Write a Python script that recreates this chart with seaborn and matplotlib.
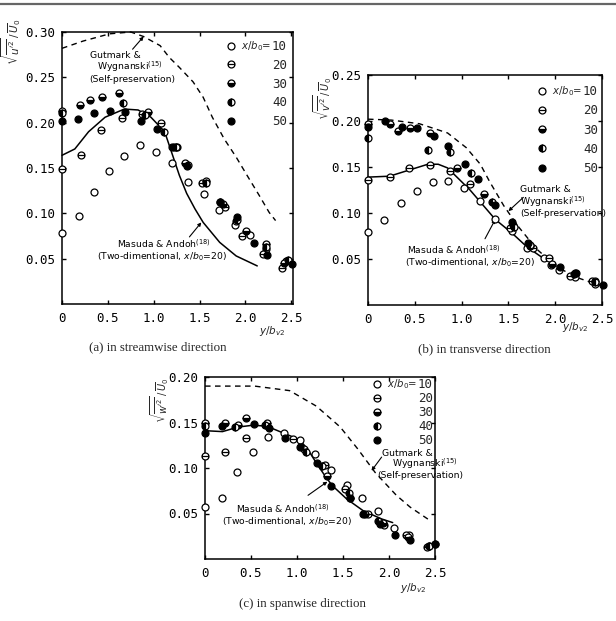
import matplotlib
matplotlib.use("Agg")
import matplotlib.pyplot as plt
import seaborn as sns
from matplotlib.path import Path
from matplotlib.lines import Line2D

# ---------------- data ----------------
SERIES = ["10", "20", "30", "40", "50"]

# (a) streamwise
A_X10 = [0.00, 0.18, 0.35, 0.51, 0.68, 0.85, 1.02, 1.20, 1.37, 1.55, 1.71, 1.89, 2.05, 2.22, 2.44]
A_Y10 = [0.078, 0.097, 0.123, 0.147, 0.163, 0.175, 0.168, 0.156, 0.135, 0.121, 0.104, 0.087, 0.076, 0.061, 0.047]
A_X20 = [0.00, 0.21, 0.43, 0.65, 0.87, 1.08, 1.25, 1.53, 1.78, 1.90, 1.96, 2.19, 2.40]
A_Y20 = [0.149, 0.164, 0.192, 0.205, 0.210, 0.200, 0.173, 0.133, 0.107, 0.091, 0.075, 0.055, 0.040]
A_X30 = [0.00, 0.20, 0.31, 0.44, 0.62, 0.94, 1.22, 1.34, 1.57, 1.76, 2.01, 2.22, 2.42]
A_Y30 = [0.213, 0.220, 0.225, 0.228, 0.233, 0.212, 0.173, 0.156, 0.136, 0.110, 0.081, 0.066, 0.045]
A_X40 = [0.00, 0.66, 0.91, 1.11, 1.24, 1.38, 1.57, 1.72, 1.91, 2.22, 2.46]
A_Y40 = [0.211, 0.222, 0.208, 0.190, 0.173, 0.153, 0.134, 0.113, 0.093, 0.063, 0.048]
A_X50 = [0.00, 0.17, 0.35, 0.52, 0.69, 0.86, 1.04, 1.20, 1.36, 1.72, 1.91, 2.09, 2.24, 2.51]
A_Y50 = [0.202, 0.204, 0.211, 0.213, 0.212, 0.202, 0.193, 0.173, 0.152, 0.113, 0.096, 0.067, 0.054, 0.044]
A_MAS_X = [0.00, 0.14, 0.29, 0.47, 0.68, 0.83, 0.97, 1.12, 1.20, 1.28, 1.36, 1.45, 1.54, 1.72, 1.90, 2.13]
A_MAS_Y = [0.164, 0.171, 0.190, 0.206, 0.215, 0.214, 0.206, 0.190, 0.166, 0.142, 0.122, 0.105, 0.090, 0.068, 0.053, 0.042]
A_GUT_X = [0.00, 0.23, 0.52, 0.75, 0.89, 1.07, 1.17, 1.28, 1.43, 1.54, 1.64, 1.77, 1.90, 2.03, 2.15, 2.26, 2.33]
A_GUT_Y = [0.282, 0.290, 0.298, 0.300, 0.295, 0.285, 0.272, 0.261, 0.245, 0.228, 0.206, 0.182, 0.162, 0.140, 0.120, 0.101, 0.092]

# (b) transverse
B_X10 = [0.00, 0.17, 0.35, 0.52, 0.69, 0.86, 1.03, 1.20, 1.36, 1.54, 1.70, 1.88, 1.95, 2.04, 2.21, 2.42]
B_Y10 = [0.079, 0.092, 0.111, 0.124, 0.134, 0.135, 0.127, 0.113, 0.093, 0.080, 0.062, 0.051, 0.043, 0.038, 0.030, 0.023]
B_X20 = [0.00, 0.23, 0.44, 0.66, 0.88, 1.09, 1.52, 1.76, 1.93, 2.16, 2.39]
B_Y20 = [0.136, 0.139, 0.149, 0.152, 0.146, 0.132, 0.084, 0.062, 0.051, 0.032, 0.026]
B_X30 = [0.00, 0.23, 0.32, 0.45, 0.66, 0.95, 1.24, 1.55, 1.73, 1.97, 2.21, 2.43]
B_Y30 = [0.197, 0.197, 0.189, 0.192, 0.187, 0.149, 0.121, 0.087, 0.064, 0.045, 0.035, 0.026]
B_X40 = [0.00, 0.64, 0.88, 1.10, 1.32, 1.56, 1.73, 2.20, 2.43]
B_Y40 = [0.181, 0.169, 0.166, 0.144, 0.112, 0.085, 0.065, 0.034, 0.025]
B_X50 = [0.00, 0.18, 0.36, 0.52, 0.70, 0.86, 1.04, 1.18, 1.36, 1.54, 1.71, 2.05, 2.22, 2.51]
B_Y50 = [0.194, 0.200, 0.193, 0.192, 0.184, 0.173, 0.153, 0.137, 0.109, 0.090, 0.067, 0.041, 0.035, 0.022]
B_MAS_X = [0.00, 0.23, 0.45, 0.64, 0.75, 0.85, 0.98, 1.09, 1.20, 1.36, 1.54, 1.70, 1.87, 1.98]
B_MAS_Y = [0.139, 0.140, 0.147, 0.153, 0.153, 0.149, 0.136, 0.125, 0.112, 0.093, 0.078, 0.063, 0.051, 0.045]
B_GUT_X = [0.00, 0.25, 0.55, 0.85, 1.05, 1.20, 1.30, 1.45, 1.60, 1.80, 2.00, 2.20, 2.40, 2.50]
B_GUT_Y = [0.202, 0.201, 0.197, 0.187, 0.171, 0.153, 0.134, 0.108, 0.086, 0.061, 0.043, 0.031, 0.024, 0.021]

# (c) spanwise
C_X10 = [0.00, 0.18, 0.35, 0.52, 0.68, 0.86, 1.03, 1.20, 1.37, 1.54, 1.71, 1.88, 2.05, 2.22, 2.50]
C_Y10 = [0.057, 0.067, 0.096, 0.118, 0.134, 0.138, 0.131, 0.115, 0.098, 0.081, 0.067, 0.053, 0.034, 0.026, 0.016]
C_X20 = [0.00, 0.22, 0.45, 0.96, 1.08, 1.30, 1.52, 1.77, 1.95, 2.19, 2.41]
C_Y20 = [0.113, 0.118, 0.133, 0.132, 0.121, 0.103, 0.077, 0.049, 0.037, 0.026, 0.013]
C_X30 = [0.00, 0.22, 0.36, 0.45, 0.67, 1.33, 1.58, 1.74, 1.93, 2.21, 2.43]
C_Y30 = [0.149, 0.149, 0.147, 0.155, 0.150, 0.091, 0.067, 0.050, 0.040, 0.024, 0.014]
C_X40 = [0.00, 0.33, 0.65, 1.10, 1.27, 1.56, 1.88, 2.44]
C_Y40 = [0.146, 0.145, 0.147, 0.118, 0.102, 0.072, 0.042, 0.014]
C_X50 = [0.00, 0.18, 0.53, 0.70, 0.87, 1.03, 1.22, 1.37, 1.58, 1.72, 1.90, 2.07, 2.23, 2.50]
C_Y50 = [0.139, 0.146, 0.148, 0.144, 0.133, 0.123, 0.105, 0.080, 0.067, 0.050, 0.038, 0.026, 0.021, 0.017]
C_MAS_X = [0.00, 0.19, 0.36, 0.52, 0.67, 0.79, 0.91, 1.03, 1.12, 1.22, 1.30, 1.38, 1.54, 1.72, 1.92, 2.04]
C_MAS_Y = [0.141, 0.140, 0.145, 0.147, 0.146, 0.141, 0.136, 0.131, 0.120, 0.104, 0.092, 0.081, 0.066, 0.053, 0.044, 0.040]
C_GUT_X = [0.00, 0.54, 0.92, 1.21, 1.38, 1.47, 1.66, 1.85, 2.08, 2.23, 2.45]
C_GUT_Y = [0.190, 0.190, 0.185, 0.168, 0.153, 0.145, 0.121, 0.095, 0.070, 0.057, 0.042]

X_TICKS = [0, 0.5, 1.0, 1.5, 2.0, 2.5]
X_TICKLABELS = ["0", "0.5", "1.0", "1.5", "2.0", "2.5"]
A_YTICKS = [0.05, 0.10, 0.15, 0.20, 0.25, 0.30]
B_YTICKS = [0.05, 0.10, 0.15, 0.20, 0.25]
C_YTICKS = [0.05, 0.10, 0.15, 0.20]

CAPTIONS = ["(a) in streamwise direction", "(b) in transverse direction", "(c) in spanwise direction"]

# ---------------- style ----------------
sns.set_theme(style="white")
plt.rcParams.update({
    "font.family": ["DejaVu Sans"],
    "mathtext.fontset": "dejavusans",
    "axes.linewidth": 1.1,
    "axes.edgecolor": "black",
    "xtick.direction": "in", "ytick.direction": "in",
    "xtick.top": True, "ytick.right": True,
    "xtick.bottom": True, "ytick.left": True,
    "xtick.major.size": 3.2, "ytick.major.size": 3.2,
    "xtick.major.width": 1.0, "ytick.major.width": 1.0,
    "xtick.color": "black", "ytick.color": "black",
})
MONO = ["DejaVu Sans Mono", "DejaVu Sans"]

W, H = 616, 621
fig = plt.figure(figsize=(W / 100, H / 100), dpi=100, facecolor="white")


def add_ax(l, t, r, b):
    return fig.add_axes([l / W, 1 - b / H, (r - l) / W, (b - t) / H])


def fig_xy(x, y):
    return x / W, 1 - y / H


THETA = Path.make_compound_path(Path.unit_circle(),
                                Path([(-1, 0), (1, 0)], [Path.MOVETO, Path.LINETO]))
MSTYLE = {
    "10": dict(marker="o", fillstyle="full", markerfacecolor="white"),
    "20": dict(marker=THETA, fillstyle="full", markerfacecolor="white"),
    "30": dict(marker="o", fillstyle="bottom", markerfacecolor="black", markerfacecoloralt="white"),
    "40": dict(marker="o", fillstyle="left", markerfacecolor="black", markerfacecoloralt="white"),
    "50": dict(marker="o", fillstyle="full", markerfacecolor="black"),
}
MS = 5.0
MEW = 0.9


def draw_panel(ax, xs, ys, mas, gut, yticks, ylim, xlim):
    # reference curves
    sns.lineplot(x=gut[0], y=gut[1], ax=ax, color="black", lw=1.0, estimator=None,
                 sort=False, legend=False, clip_on=False)
    ax.lines[-1].set_dashes([4.0, 3.2])
    sns.lineplot(x=mas[0], y=mas[1], ax=ax, color="black", lw=1.1, estimator=None,
                 sort=False, legend=False, clip_on=False)
    # measured points
    for key, x, y in zip(SERIES, xs, ys):
        sns.lineplot(x=x, y=y, ax=ax, estimator=None, sort=False, legend=False,
                     linestyle="", color="black", markeredgecolor="black",
                     markeredgewidth=MEW, markersize=MS, clip_on=False, zorder=4,
                     **MSTYLE[key])
    ax.set_xlim(*xlim)
    ax.set_ylim(*ylim)
    ax.set_xticks(X_TICKS, X_TICKLABELS)
    ax.set_yticks(yticks, [f"{v:.2f}" for v in yticks])
    ax.tick_params(axis="x", pad=5.5, labelsize=9)
    ax.tick_params(axis="y", pad=5.0, labelsize=9)
    for lab in ax.get_xticklabels() + ax.get_yticklabels():
        lab.set_family(MONO)
    ax.set_xlabel("")
    ax.set_ylabel("")
    for s in ax.spines.values():
        s.set_visible(True)
        s.set_color("black")


def add_legend(ax, anchor, spacing):
    handles = [Line2D([], [], linestyle="", color="black", markeredgecolor="black",
                      markeredgewidth=MEW, markersize=MS, **MSTYLE[k]) for k in SERIES]
    leg = ax.legend(handles, SERIES, loc="upper right", bbox_to_anchor=anchor,
                    frameon=False, borderpad=0, borderaxespad=0, handlelength=0.5,
                    handletextpad=3.0, labelspacing=spacing,
                    prop={"family": MONO, "size": 9})
    return leg


axA = add_ax(62, 32, 293, 304)
axB = add_ax(368, 75, 602, 305)
axC = add_ax(205, 377, 435, 559)

draw_panel(axA, [A_X10, A_X20, A_X30, A_X40, A_X50], [A_Y10, A_Y20, A_Y30, A_Y40, A_Y50],
           (A_MAS_X, A_MAS_Y), (A_GUT_X, A_GUT_Y), A_YTICKS, (0, 0.30), (0, 2.52))
draw_panel(axB, [B_X10, B_X20, B_X30, B_X40, B_X50], [B_Y10, B_Y20, B_Y30, B_Y40, B_Y50],
           (B_MAS_X, B_MAS_Y), (B_GUT_X, B_GUT_Y), B_YTICKS, (0, 0.25), (0, 2.5))
draw_panel(axC, [C_X10, C_X20, C_X30, C_X40, C_X50], [C_Y10, C_Y20, C_Y30, C_Y40, C_Y50],
           (C_MAS_X, C_MAS_Y), (C_GUT_X, C_GUT_Y), C_YTICKS, (0, 0.20), (0, 2.5))

legA = add_legend(axA, ((287 - 62) / 231, (304 - 40) / 272), 0.46)
legB = add_legend(axB, ((598 - 368) / 234, (305 - 85) / 230), 0.50)
legC = add_legend(axC, ((433 - 205) / 230, (559 - 378) / 182), 0.08)

# annotations -------------------------------------------------
ANN = dict(fontsize=6.7, ha="center", va="center", color="black")


def lines_at(items):
    for (x, y, s) in items:
        fig.text(*fig_xy(x, y), s, **ANN)


def arrow(ax, start, end):
    ax.annotate("", xy=end, xytext=start,
                arrowprops=dict(arrowstyle="-|>", color="black", lw=0.8,
                                mutation_scale=5, shrinkA=0, shrinkB=0))


GUT = ["Gutmark &", r"Wygnanski$^{(15)}$", "(Self-preservation)"]
MAS = [r"Masuda & Andoh$^{(18)}$", r"(Two-dimentional, $x/b_0$=20)"]

lines_at([(115, 55, GUT[0]), (130, 67, GUT[1]), (132, 79, GUT[2]),
          (164, 244, MAS[0]), (162, 257, MAS[1])])
arrow(axA, (0.77, 0.281), (0.89, 0.295))
arrow(axA, (1.39, 0.074), (1.52, 0.090))

lines_at([(545, 190, GUT[0]), (553, 202, GUT[1]), (563, 214, GUT[2]),
          (454, 250, MAS[0]), (470, 263, MAS[1])])
arrow(axB, (1.66, 0.117), (1.50, 0.102))
arrow(axB, (1.25, 0.072), (1.36, 0.093))

lines_at([(407, 453, GUT[0]), (425, 464, GUT[1]), (420, 476, GUT[2]),
          (283, 509, MAS[0]), (287, 522, MAS[1])])
arrow(axC, (1.92, 0.112), (1.81, 0.097))
arrow(axC, (1.12, 0.070), (1.33, 0.085))

# axis labels --------------------------------------------------
YL = dict(rotation=90, ha="center", va="center")
fig.text(*fig_xy(11, 42), r"$\sqrt{\overline{u^{\prime 2}}}\,/\,\overline{U}_0$", fontsize=7.5, **YL)
fig.text(*fig_xy(323, 99), r"$\sqrt{\overline{v^{\prime 2}}}\,/\,\overline{U}_0$", fontsize=7.0, **YL)
fig.text(*fig_xy(160, 400), r"$\sqrt{\overline{w^{\prime 2}}}\,/\,\overline{U}_0$", fontsize=7.0, **YL)

XL = dict(ha="center", va="center", fontsize=7.5)
fig.text(*fig_xy(272, 331), r"$y/b_{v2}$", **XL)
fig.text(*fig_xy(575, 327), r"$y/b_{v2}$", **XL)
fig.text(*fig_xy(413, 588), r"$y/b_{v2}$", **XL)

CAP = dict(ha="center", va="center", fontsize=9.3, family="Liberation Serif")
fig.text(*fig_xy(158, 347), CAPTIONS[0], **CAP)
fig.text(*fig_xy(484, 349), CAPTIONS[1], **CAP)
fig.text(*fig_xy(302, 604), CAPTIONS[2], **CAP)

# page rule at the top
fig.add_artist(Line2D([0, 1], [1 - 4 / H, 1 - 4 / H], color="0.4", lw=1.6))

# "x/b0=" prefix before the first legend entry
fig.canvas.draw()
for leg in (legA, legB, legC):
    t0 = leg.get_texts()[0]
    bb = t0.get_window_extent()
    fig.text(bb.x0 - 0.5, (bb.y0 + bb.y1) / 2, r"$x/b_0$=", transform=None,
             ha="right", va="center", fontsize=7.3)

fig.savefig("out.png", dpi=100, facecolor="white")
